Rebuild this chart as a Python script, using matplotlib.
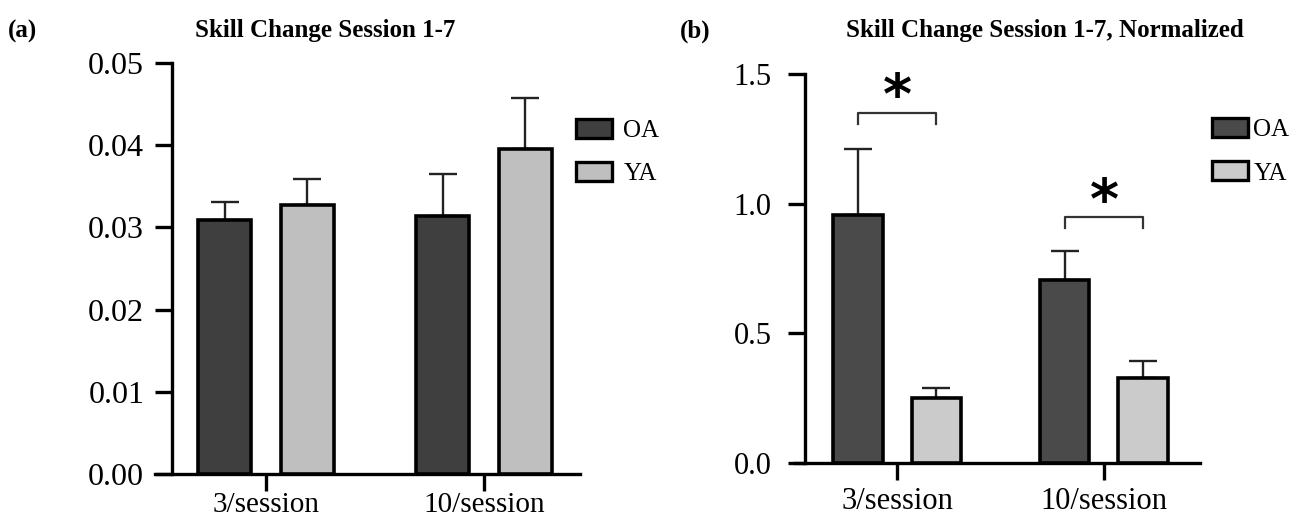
import matplotlib
matplotlib.use("Agg")
import matplotlib.pyplot as plt
import numpy as np
from matplotlib.patches import Patch

plt.rcParams['font.family'] = ['Liberation Serif', 'DejaVu Serif']

groups = ['3/session', '10/session']
series = ['OA', 'YA']

# panel (a): raw skill change, mean and upper SEM
raw_oa = [0.0309, 0.0314]
raw_oa_err = [0.0022, 0.0051]
raw_ya = [0.0327, 0.0395]
raw_ya_err = [0.0032, 0.0063]
raw_ticks = [0.00, 0.01, 0.02, 0.03, 0.04, 0.05]

# panel (b): normalized skill change
norm_oa = [0.955, 0.705]
norm_oa_err = [0.255, 0.112]
norm_ya = [0.252, 0.327]
norm_ya_err = [0.038, 0.066]
norm_ticks = [0.0, 0.5, 1.0, 1.5]

# significance brackets in panel (b): bracket height per group
sig_levels = [1.349, 0.948]

fig = plt.figure(figsize=(12.96, 5.18), dpi=100)

W, H = 1296, 518


def px_axes(left, right, top, bottom):
    return fig.add_axes([left / W, 1 - bottom / H, (right - left) / W, (bottom - top) / H])


def draw_panel(ax, oa, oa_err, ya, ya_err, colors, xlim, spine_x, ylim, ticks, fmt, tfs, ypad, xpad, xfs):
    x = np.arange(len(groups))
    off, bw = 0.19, 0.24
    for xs, vals, errs, c in [(x - off, oa, oa_err, colors[0]), (x + off, ya, ya_err, colors[1])]:
        ax.bar(xs, vals, width=bw, color=c, edgecolor='black', linewidth=2.6, zorder=3)
        ax.errorbar(xs, vals, yerr=[np.zeros(len(vals)), errs], fmt='none', ecolor='#222222',
                    elinewidth=1.7, capsize=10, capthick=1.7, zorder=2)
    ax.set_xlim(*xlim)
    ax.set_ylim(*ylim)
    ax.spines[['top', 'right']].set_visible(False)
    ax.spines['left'].set_position(('data', spine_x))
    for s in ['left', 'bottom']:
        ax.spines[s].set_linewidth(2.4)
    ax.set_yticks(ticks)
    ax.set_yticklabels([fmt.format(t) for t in ticks], fontsize=tfs)
    ax.set_xticks(x)
    ax.set_xticklabels(groups, fontsize=xfs)
    ax.tick_params(axis='both', length=12, width=2.4)
    ax.tick_params(axis='y', pad=ypad)
    ax.tick_params(axis='x', pad=xpad)
    ax.patch.set_visible(False)
    return x, off


# (a)
axa = px_axes(155, 580, 63, 474)
draw_panel(axa, raw_oa, raw_oa_err, raw_ya, raw_ya_err, ['#3f3f3f', '#bfbfbf'],
           (-0.509, 1.440), -0.431, (0, 0.05), raw_ticks, '{:.2f}', 23, 8, 1, 21)

# (b)
axb = px_axes(795, 1200, 74, 463)
xb, off = draw_panel(axb, norm_oa, norm_oa_err, norm_ya, norm_ya_err, ['#4a4a4a', '#cbcbcb'],
                     (-0.493, 1.464), -0.444, (0, 1.5), norm_ticks, '{:.1f}', 22, 12, 5, 22)

for xc, lvl, dy in zip(xb, sig_levels, [-0.045, -0.05]):
    axb.plot([xc - off, xc - off, xc + off, xc + off], [lvl - 0.042, lvl, lvl, lvl - 0.042],
             color='#333333', lw=1.6, clip_on=False)
    axb.text(xc, lvl + dy, '*', ha='center', va='bottom', fontsize=40,
             fontweight='bold', family='DejaVu Sans', clip_on=False)

# legends
leg_handles = [
    [Patch(facecolor='#3f3f3f', edgecolor='black', linewidth=2.4, label='OA'),
     Patch(facecolor='#bfbfbf', edgecolor='black', linewidth=2.4, label='YA')],
    [Patch(facecolor='#4a4a4a', edgecolor='black', linewidth=2.4, label='OA'),
     Patch(facecolor='#cbcbcb', edgecolor='black', linewidth=2.4, label='YA')],
]
for ax, hs, (lx, ly), tp in [(axa, leg_handles[0], (576, 119), 0.45), (axb, leg_handles[1], (1212, 118), 0.2)]:
    ax.legend(handles=hs, loc='upper left', bbox_to_anchor=(lx / W, 1 - ly / H),
              bbox_transform=fig.transFigure, frameon=False, fontsize=18,
              handlelength=1.45, handleheight=0.8, handletextpad=tp, labelspacing=0.8,
              borderpad=0, borderaxespad=0)

# titles and panel letters
fig.text(325 / W, 1 - 31 / H, 'Skill Change Session 1-7', ha='center', va='center',
         fontsize=18, fontweight='bold')
fig.text(1045 / W, 1 - 31 / H, 'Skill Change Session 1-7, Normalized', ha='center', va='center',
         fontsize=18, fontweight='bold')
fig.text(8 / W, 1 - 31 / H, '(a)', ha='left', va='center', fontsize=18, fontweight='bold')
fig.text(680 / W, 1 - 31 / H, '(b)', ha='left', va='center', fontsize=18, fontweight='bold')

fig.savefig('out.png', dpi=100)
